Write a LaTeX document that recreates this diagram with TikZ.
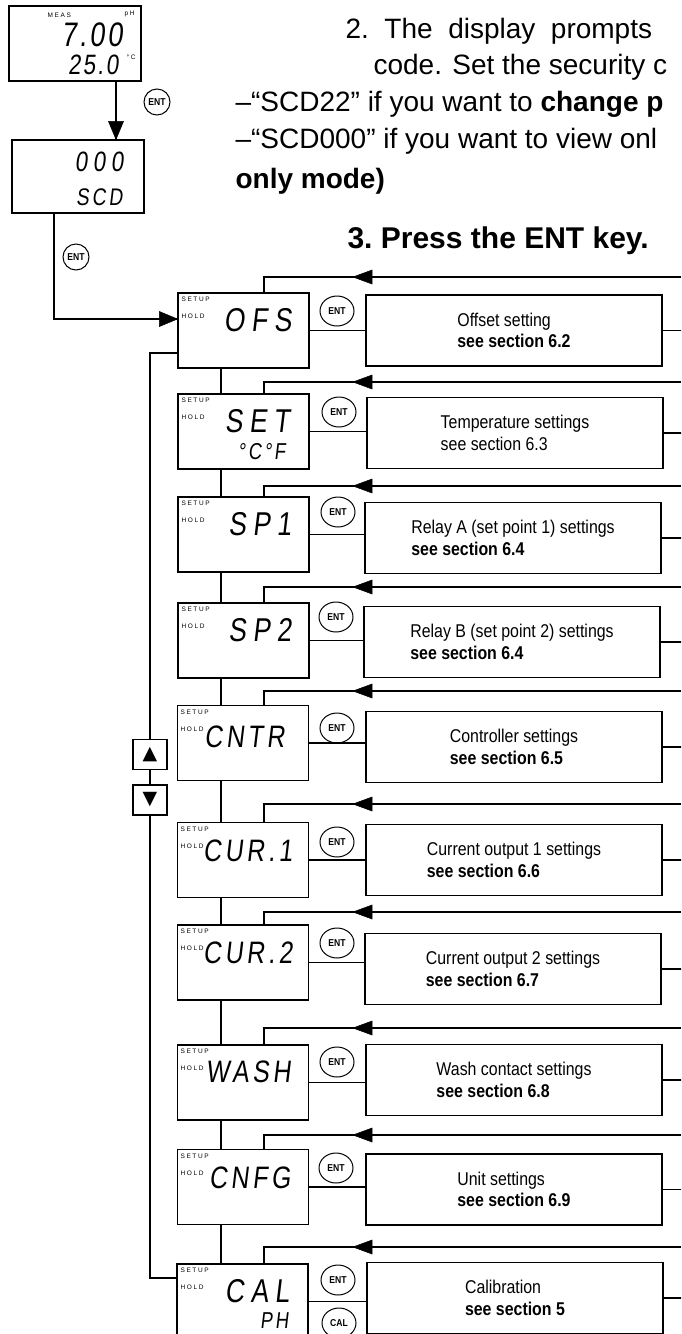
\documentclass[tikz,border=0pt]{standalone}
\usepackage{fontspec}
\setmainfont{Liberation Sans}
\newfontfamily\narrowfont[FakeStretch=0.86]{Liberation Sans}
\newfontfamily\lcdfont[FakeSlant=0.12,FakeStretch=0.8,LetterSpace=20]{Liberation Sans}
\newfontfamily\lcdtight[FakeSlant=0.12,FakeStretch=0.8,LetterSpace=12]{Liberation Sans}
\newfontfamily\lcdnum[FakeSlant=0.12,FakeStretch=0.8,LetterSpace=8]{Liberation Sans}
\newfontfamily\labelfont[LetterSpace=25]{Liberation Sans}
\newfontfamily\symfont{DejaVu Sans}
\usetikzlibrary{calc,arrows,shapes.geometric}

\tikzset{
    disp/.style={draw, line width=1.1pt, minimum width=131pt, minimum height=75pt, inner sep=0pt},
    descbox/.style={draw, line width=1.1pt, minimum width=296pt, minimum height=71pt, align=left, inner sep=0pt, font=\narrowfont\fontsize{18.5}{21.7}\selectfont},
    entkey/.style={draw, ellipse, line width=1pt, minimum width=34pt, minimum height=30pt, inner sep=0pt, font=\narrowfont\fontsize{10}{10}\selectfont\bfseries},
    smallkey/.style={entkey, minimum width=26pt, minimum height=26pt},
    btn/.style={draw, line width=1.1pt, minimum width=34pt, minimum height=30pt, inner sep=0pt, font=\symfont\fontsize{19}{19}\selectfont},
    lcd/.style={anchor=east, inner sep=0pt, font=\lcdfont\fontsize{33}{33}\selectfont},
    lcdlong/.style={anchor=east, inner sep=0pt, font=\lcdtight\fontsize{31}{31}\selectfont},
    lcdsmall/.style={anchor=east, inner sep=0pt, font=\lcdtight\fontsize{23}{23}\selectfont},
    disptag/.style={anchor=west, inner sep=0pt, font=\labelfont\fontsize{6.5}{6.5}\selectfont},
    toptext/.style={anchor=base west, inner sep=0pt, font=\fontsize{28}{34}\selectfont}
}

\begin{document}
\begin{tikzpicture}[x=1pt,y=-1pt,line width=1.1pt]
    \useasboundingbox (0,0) rectangle (681,1334);
    \clip (0,0) rectangle (681,1334);

    \node[toptext] (stepa) at (345,38) {2.~~The~~display~~prompts};
    \node[toptext] (stepb) at (373,74) {code. Set the security c};
    \node[toptext] (scdchange) at (235,111) {–“SCD22” if you want to \textbf{change p}};
    \node[toptext] (scdview) at (235,148) {–“SCD000” if you want to view onl};
    \node[toptext] (scdview2) at (235,188) {\textbf{only mode)}};
    \node[toptext, font=\fontsize{30}{36}\selectfont\bfseries] (stepc) at (347,248) {3.~Press the ENT key.};

    \node[disp, minimum width=132pt] (meas) at (75,43.5) {};
    \node[disptag] at (47,15) {MEAS};
    \node[disptag] at (124,14) {pH};
    \node[lcd, font=\lcdnum\fontsize{34}{34}\selectfont] at (123,34.5) {7.00};
    \node[lcd, font=\lcdnum\fontsize{28}{28}\selectfont] at (119,65) {25.0};
    \node[disptag] at (126,57) {°C};

    \node[disp, minimum width=132pt, minimum height=73pt] (scd) at (78,176.5) {};
    \node[lcd, font=\lcdfont\fontsize{28}{28}\selectfont] at (124,162) {000};
    \node[lcd, font=\lcdtight\fontsize{24}{24}\selectfont] at (123,197) {SCD};

    \draw ([xshift=41pt]meas.south) -- ([xshift=41pt]meas.south |- scd.north);
    \filldraw[line width=0.5pt] ([xshift=41pt]meas.south |- scd.north) -- ++(7.5,-18) -- ++(-15,0) -- cycle;
    \node[smallkey] (entmeas) at (157,102) {ENT};
    \node[smallkey] (entscd) at (76,257) {ENT};

    \begin{scope}[yshift=-293pt]
        \node[disp] (ofs) at (243.5,37.5) {};
        \node[disptag] at (181,6) {SETUP};
        \node[disptag] at (181,23) {HOLD};
        \node[lcd] at (292,27) {OFS};
        \node[entkey] (ofsent) at (337,18) {ENT};
        \node[descbox] (ofsdesc) at (514,37.5) {Offset setting\\\textbf{see section 6.2}};
        \coordinate (ofsret) at (681,-16);
        \draw (ofs.east) -- (ofs.east -| ofsdesc.west);
        \draw (ofsdesc.east) -- ++(30,0);
        \draw (ofsret) -| ([xshift=20.5pt]ofs.north);
        \filldraw[line width=0.5pt] (ofsret) ++(-328,0) -- ++(19,-7) -- ++(0,14) -- cycle;
    \end{scope}

    \begin{scope}[yshift=-394pt]
        \node[disp] (set) at (243.5,37.5) {};
        \node[disptag] at (181,6) {SETUP};
        \node[disptag] at (181,23) {HOLD};
        \node[lcd] at (290,27) {SET};
        \node[lcdsmall] at (286,58) {°C°F};
        \node[entkey] (setent) at (339,18) {ENT};
        \node[descbox] (setdesc) at (515,39) {Temperature settings\\see section 6.3};
        \coordinate (setret) at (681,-12);
        \draw (set.east) -- (set.east -| setdesc.west);
        \draw (setdesc.east) -- ++(30,0);
        \draw (setret) -| ([xshift=20.5pt]set.north);
        \filldraw[line width=0.5pt] (setret) ++(-328,0) -- ++(19,-7) -- ++(0,14) -- cycle;
    \end{scope}

    \begin{scope}[yshift=-497pt]
        \node[disp] (spa) at (243.5,37.5) {};
        \node[disptag] at (181,6) {SETUP};
        \node[disptag] at (181,23) {HOLD};
        \node[lcd] at (292,27) {SP1};
        \node[entkey] (spaent) at (338,15) {ENT};
        \node[descbox] (spadesc) at (513,41) {Relay A (set point 1) settings\\\textbf{see section 6.4}};
        \coordinate (sparet) at (681,-11);
        \draw (spa.east) -- (spa.east -| spadesc.west);
        \draw (spadesc.east) -- ++(30,0);
        \draw (sparet) -| ([xshift=20.5pt]spa.north);
        \filldraw[line width=0.5pt] (sparet) ++(-328,0) -- ++(19,-7) -- ++(0,14) -- cycle;
    \end{scope}

    \begin{scope}[yshift=-603pt]
        \node[disp] (spb) at (243.5,37.5) {};
        \node[disptag] at (181,6) {SETUP};
        \node[disptag] at (181,23) {HOLD};
        \node[lcd] at (292,27) {SP2};
        \node[entkey] (spbent) at (336,14) {ENT};
        \node[descbox] (spbdesc) at (512,39) {Relay B (set point 2) settings\\\textbf{see section 6.4}};
        \coordinate (spbret) at (681,-16);
        \draw (spb.east) -- (spb.east -| spbdesc.west);
        \draw (spbdesc.east) -- ++(30,0);
        \draw (spbret) -| ([xshift=20.5pt]spb.north);
        \filldraw[line width=0.5pt] (spbret) ++(-328,0) -- ++(19,-7) -- ++(0,14) -- cycle;
    \end{scope}

    \begin{scope}[yshift=-706pt]
        \node[disp] (cntr) at (243,37) {};
        \node[disptag] at (180,6) {SETUP};
        \node[disptag] at (180,23) {HOLD};
        \node[lcdlong] at (285,31) {CNTR};
        \node[entkey] (cntrent) at (337,22) {ENT};
        \node[descbox] (cntrdesc) at (514,41) {Controller settings\\\textbf{see section 6.5}};
        \coordinate (cntrret) at (681,-15);
        \draw (cntr.east) -- (cntr.east -| cntrdesc.west);
        \draw (cntrdesc.east) -- ++(30,0);
        \draw (cntrret) -| ([xshift=21pt]cntr.north);
        \filldraw[line width=0.5pt] (cntrret) ++(-328,0) -- ++(19,-7) -- ++(0,14) -- cycle;
    \end{scope}

    \begin{scope}[yshift=-823pt]
        \node[disp] (cura) at (243,37) {};
        \node[disptag] at (180,6) {SETUP};
        \node[disptag] at (180,23) {HOLD};
        \node[lcdlong] at (293,28) {CUR.1};
        \node[entkey] (curaent) at (337,19) {ENT};
        \node[descbox] (curadesc) at (514,37) {Current output 1 settings\\\textbf{see section 6.6}};
        \coordinate (curaret) at (681,-19);
        \draw (cura.east) -- (cura.east -| curadesc.west);
        \draw (curadesc.east) -- ++(30,0);
        \draw (curaret) -| ([xshift=21pt]cura.north);
        \filldraw[line width=0.5pt] (curaret) ++(-328,0) -- ++(19,-7) -- ++(0,14) -- cycle;
    \end{scope}

    \begin{scope}[yshift=-925pt]
        \node[disp] (curb) at (243,37.5) {};
        \node[disptag] at (180,6) {SETUP};
        \node[disptag] at (180,23) {HOLD};
        \node[lcdlong] at (293,28) {CUR.2};
        \node[entkey] (curbent) at (337,18) {ENT};
        \node[descbox] (curbdesc) at (513,44) {Current output 2 settings\\\textbf{see section 6.7}};
        \coordinate (curbret) at (681,-13);
        \draw (curb.east) -- (curb.east -| curbdesc.west);
        \draw (curbdesc.east) -- ++(30,0);
        \draw (curbret) -| ([xshift=21pt]curb.north);
        \filldraw[line width=0.5pt] (curbret) ++(-328,0) -- ++(19,-7) -- ++(0,14) -- cycle;
    \end{scope}

    \begin{scope}[yshift=-1045pt]
        \node[disp] (wash) at (243,37.5) {};
        \node[disptag] at (180,6) {SETUP};
        \node[disptag] at (180,23) {HOLD};
        \node[lcdlong] at (291,27) {WASH};
        \node[entkey] (washent) at (337,17) {ENT};
        \node[descbox] (washdesc) at (514,35) {Wash contact settings\\\textbf{see section 6.8}};
        \coordinate (washret) at (681,-17);
        \draw (wash.east) -- (wash.east -| washdesc.west);
        \draw (washdesc.east) -- ++(30,0);
        \draw (washret) -| ([xshift=21pt]wash.north);
        \filldraw[line width=0.5pt] (washret) ++(-328,0) -- ++(19,-7) -- ++(0,14) -- cycle;
    \end{scope}

    \begin{scope}[yshift=-1150pt]
        \node[disp] (cnfg) at (243,37) {};
        \node[disptag] at (180,6) {SETUP};
        \node[disptag] at (180,23) {HOLD};
        \node[lcdlong] at (291,28) {CNFG};
        \node[entkey] (cnfgent) at (336,18) {ENT};
        \node[descbox] (cnfgdesc) at (514,39.5) {Unit settings\\\textbf{see section 6.9}};
        \coordinate (cnfgret) at (681,-15);
        \draw (cnfg.east) -- (cnfg.east -| cnfgdesc.west);
        \draw (cnfgdesc.east) -- ++(30,0);
        \draw (cnfgret) -| ([xshift=21pt]cnfg.north);
        \filldraw[line width=0.5pt] (cnfgret) ++(-328,0) -- ++(19,-7) -- ++(0,14) -- cycle;
    \end{scope}

    \begin{scope}[yshift=-1264pt]
        \node[disp] (cal) at (242.5,37.5) {};
        \node[disptag] at (180,6) {SETUP};
        \node[disptag] at (180,23) {HOLD};
        \node[lcd] at (290,27) {CAL};
        \node[lcdsmall] at (289,57) {PH};
        \node[entkey] (calent) at (338,16) {ENT};
        \node[entkey] (calkey) at (339,59) {CAL};
        \node[descbox] (caldesc) at (515,34) {Calibration\\\textbf{see section 5}};
        \coordinate (calret) at (681,-17);
        \draw (cal.east) -- (cal.east -| caldesc.west);
        \draw (caldesc.east) -- ++(30,0);
        \draw (calret) -| ([xshift=21.5pt]cal.north);
        \filldraw[line width=0.5pt] (calret) ++(-328,0) -- ++(19,-7) -- ++(0,14) -- cycle;
    \end{scope}

    % entry into the setup menu
    \draw ([xshift=-24pt]scd.south) |- ([yshift=11.5pt]ofs.west);
    \filldraw[line width=0.5pt] ([yshift=11.5pt]ofs.west) -- ++(-18,-7.5) -- ++(0,15) -- cycle;

    % menu chain
    \draw ([xshift=-22.5pt]ofs.south) -- ([xshift=-22.5pt]set.north);
    \draw ([xshift=-22.5pt]set.south) -- ([xshift=-22.5pt]spa.north);
    \draw ([xshift=-22.5pt]spa.south) -- ([xshift=-22.5pt]spb.north);
    \draw ([xshift=-22.5pt]spb.south) -- ([xshift=-22pt]cntr.north);
    \draw ([xshift=-22pt]cntr.south) -- ([xshift=-22pt]cura.north);
    \draw ([xshift=-22pt]cura.south) -- ([xshift=-22pt]curb.north);
    \draw ([xshift=-22pt]curb.south) -- ([xshift=-22pt]wash.north);
    \draw ([xshift=-22pt]wash.south) -- ([xshift=-22pt]cnfg.north);
    \draw ([xshift=-22pt]cnfg.south) -- ([xshift=-21.5pt]cal.north);

    % up / down keys
    \node[btn] (up) at (150,754.5) {▲};
    \node[btn] (down) at (150,800) {▼};
    \draw ([yshift=-22.5pt]ofs.west) -| (up.north);
    \draw (up.south) -- (down.north);
    \draw (down.south) |- ([yshift=23.5pt]cal.west);
\end{tikzpicture}
\end{document}
